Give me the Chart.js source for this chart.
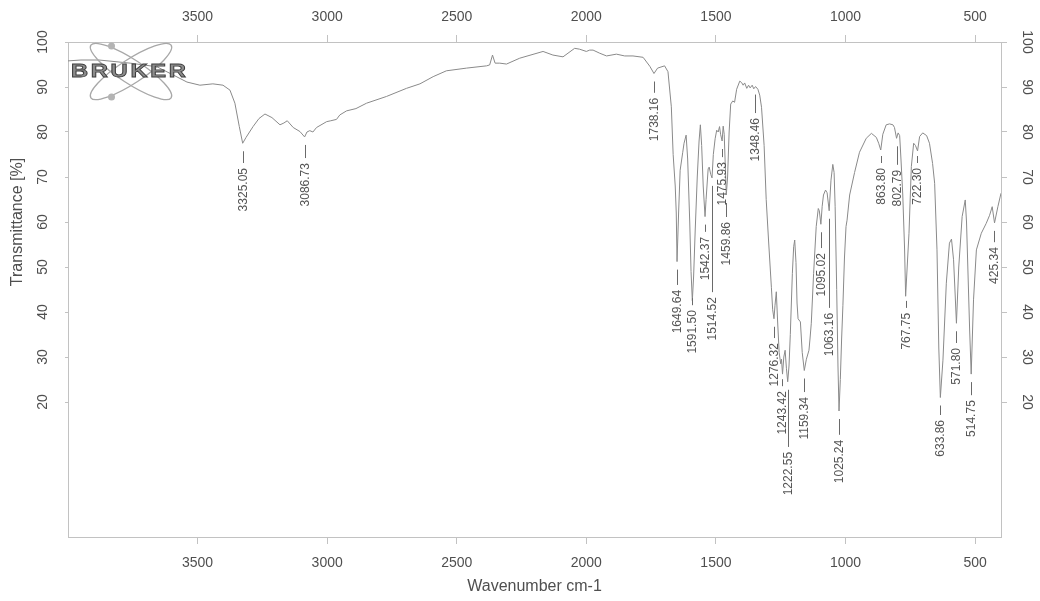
<!DOCTYPE html>
<html>
<head>
<meta charset="utf-8">
<script src="https://cdn.jsdelivr.net/npm/chart.js@4.4.1/dist/chart.umd.min.js"></script>
<style>
  html, body { margin: 0; padding: 0; background: #fff; }
  #wrap { width: 1040px; height: 601px; position: relative; }
</style>
</head>
<body>
<div id="wrap"><canvas id="irChart"></canvas></div>
<script>
// spectrum (wavenumber cm-1 -> transmittance %)
const wavenumber = [
  4000, 3950, 3880, 3760, 3657, 3595, 3541, 3491, 3441, 3402, 3375, 3356, 3339, 3326, 3313,
  3286, 3263, 3240, 3213, 3182, 3167, 3154, 3131, 3105, 3087, 3078, 3067, 3055, 3041, 3002,
  2986, 2964, 2951, 2925, 2889, 2848, 2771, 2694, 2642, 2591, 2540, 2462, 2385, 2373, 2362,
  2352, 2334, 2308, 2257, 2167, 2129, 2090, 2045, 2026, 2000, 1987, 1974, 1948, 1922, 1884,
  1852, 1820, 1781, 1755, 1739, 1725, 1698, 1685, 1672, 1665, 1657, 1653, 1650, 1644, 1638,
  1628, 1623, 1615, 1609, 1601, 1596, 1591, 1586, 1580, 1572, 1565, 1560, 1555, 1549, 1542,
  1538, 1530, 1526, 1520, 1515, 1510, 1503, 1497, 1491, 1486, 1482, 1476, 1472, 1468, 1460,
  1455, 1449, 1443, 1435, 1428, 1420, 1408, 1401, 1395, 1389, 1381, 1374, 1368, 1360, 1354,
  1347, 1338, 1331, 1324, 1314, 1306, 1297, 1286, 1281, 1276, 1272, 1267, 1262, 1256, 1250,
  1247, 1243, 1238, 1233, 1228, 1223, 1218, 1213, 1205, 1200, 1196, 1191, 1187, 1183, 1174,
  1167, 1159, 1151, 1141, 1137, 1132, 1123, 1113, 1105, 1101, 1095, 1090, 1085, 1077, 1071,
  1063, 1056, 1049, 1044, 1040, 1034, 1029, 1025, 1020, 1015, 1010, 1004, 998, 994, 984,
  965, 946, 920, 900, 881, 872, 864, 856, 843, 830, 817, 811, 803, 797, 791,
  786, 779, 772, 768, 762, 755, 746, 737, 730, 722, 714, 702, 687, 676, 664,
  656, 647, 640, 634, 624, 611, 599, 591, 583, 577, 572, 563, 550, 538, 533,
  528, 521, 515, 506, 495, 476, 457, 444, 434, 425, 412, 400
];
const transmittance = [
  95.8, 96.0, 96.0, 95.3, 94.5, 92.7, 91.1, 90.4, 90.7, 90.4, 89.3, 86.4, 81.2, 77.5, 78.8,
  81.2, 83.0, 84.0, 83.2, 81.6, 82.0, 82.5, 81.0, 80.1, 78.9, 80.0, 80.3, 80.0, 81.0, 82.3,
  82.5, 82.8, 83.8, 84.7, 85.2, 86.4, 87.9, 89.7, 90.7, 92.3, 93.6, 94.2, 94.7, 94.9, 97.1,
  95.3, 95.3, 95.1, 96.4, 97.9, 97.1, 96.7, 98.6, 98.4, 97.9, 98.2, 98.2, 97.5, 96.9, 97.3,
  96.9, 96.9, 96.6, 94.6, 93.0, 94.2, 94.7, 93.4, 85.6, 75.0, 68.0, 62.0, 51.2, 62.0, 71.5,
  75.5, 77.5, 79.3, 74.0, 60.0, 49.0, 42.5, 48.0, 58.0, 70.0, 78.0, 81.6, 77.0, 68.0, 61.2,
  65.0, 71.8, 72.2, 70.6, 69.8, 75.0, 78.5, 80.4, 80.0, 81.2, 79.5, 78.0, 81.3, 79.5, 66.0,
  70.0, 80.0, 86.2, 86.9, 86.6, 89.5, 91.3, 91.0, 90.4, 90.9, 89.7, 90.4, 89.8, 90.4, 89.6,
  90.1, 89.5, 88.2, 85.5, 77.0, 65.0, 56.0, 45.5, 40.5, 38.5, 41.5, 44.5, 38.0, 31.0, 28.5,
  29.5, 26.2, 30.0, 31.5, 27.5, 24.5, 28.0, 35.0, 48.6, 54.5, 56.0, 51.0, 42.0, 38.5, 37.8,
  31.0, 27.0, 29.5, 31.5, 34.0, 37.5, 48.6, 59.0, 63.0, 62.5, 59.5, 63.5, 66.0, 67.1, 66.5,
  62.5, 69.3, 72.8, 71.0, 63.5, 45.0, 28.0, 18.0, 25.0, 34.0, 41.5, 52.0, 59.0, 60.4, 66.0,
  71.0, 75.5, 78.6, 79.7, 78.8, 77.5, 76.0, 79.5, 81.6, 81.8, 81.6, 81.0, 78.6, 79.8, 79.2,
  74.0, 66.0, 54.0, 43.5, 50.0, 57.5, 72.3, 77.5, 77.0, 75.8, 79.0, 79.8, 79.2, 77.5, 73.0,
  68.6, 53.8, 32.0, 21.0, 29.3, 46.4, 55.3, 56.2, 51.6, 44.0, 37.5, 50.0, 61.2, 64.9, 60.0,
  50.0, 36.0, 26.2, 42.7, 53.8, 57.5, 59.7, 61.5, 63.4, 59.8, 63.4, 66.4
];

// picked peaks and where their labels start (transmittance units)
const peakLabels = [
  '3325.05', '3086.73', '1738.16', '1649.64', '1591.50', '1542.37', '1514.52', '1475.93',
  '1459.86', '1348.46', '1276.32', '1243.42', '1222.55', '1159.34', '1095.02', '1063.16',
  '1025.24', '863.80', '802.79', '767.75', '722.30', '633.86', '571.80', '514.75', '425.34'
];
const peakLabelTop = [
  72.0, 73.1, 87.6, 44.9, 40.4, 56.7, 43.3, 73.3,
  60.0, 83.1, 33.1, 22.4, 8.9, 21.1, 53.1, 39.8,
  11.6, 72.0, 71.6, 39.8, 72.0, 16.0, 32.0, 20.4, 54.4
];

const xTickValues = [3500, 3000, 2500, 2000, 1500, 1000, 500];
const yTickValues = [20, 30, 40, 50, 60, 70, 80, 90, 100];

const FONT = '"Liberation Sans", Arial, sans-serif';
const textColor = '#4f4f4f';
const frameColor = '#c2c2c2';

Chart.defaults.font.family = FONT;

const points = wavenumber.map((w, i) => ({ x: w, y: transmittance[i] }));

function peakValue(wn) {
  let best = Infinity;
  wavenumber.forEach((w, i) => {
    if (Math.abs(w - wn) <= 5 && transmittance[i] < best) best = transmittance[i];
  });
  return best;
}

const decorPlugin = {
  id: 'decor',
  afterDraw(chart) {
    const { ctx, chartArea } = chart;
    const x = chart.scales.x;
    const yL = chart.scales.y;

    ctx.save();

    // y tick labels, rotated like the printout
    ctx.fillStyle = textColor;
    ctx.font = '14px ' + FONT;
    ctx.textAlign = 'center';
    ctx.textBaseline = 'middle';
    yL.ticks.forEach(t => {
      const py = yL.getPixelForValue(t.value);
      ctx.save();
      ctx.translate(chartArea.left - 25, py);
      ctx.rotate(-Math.PI / 2);
      ctx.fillText(String(t.value), 0, 0);
      ctx.restore();
      ctx.save();
      ctx.translate(chartArea.right + 26, py);
      ctx.rotate(Math.PI / 2);
      ctx.fillText(String(t.value), 0, 0);
      ctx.restore();
    });

    // y title centred on the labelled range
    const midY = (yL.getPixelForValue(20) + yL.getPixelForValue(100)) / 2;
    ctx.font = '16px ' + FONT;
    ctx.save();
    ctx.translate(18, midY);
    ctx.rotate(-Math.PI / 2);
    ctx.fillText('Transmittance [%]', 0, 0);
    ctx.restore();

    // peak labels
    ctx.font = '12px ' + FONT;
    ctx.fillStyle = '#555';
    ctx.strokeStyle = '#6a6a6a';
    ctx.lineWidth = 1;
    peakLabels.forEach((lbl, i) => {
      const wn = parseFloat(lbl);
      const px = Math.round(x.getPixelForValue(wn)) + 0.5;
      const py = yL.getPixelForValue(peakValue(wn));
      const top = yL.getPixelForValue(peakLabelTop[i]);
      const d0 = Math.min(py + 8, top - 12);
      ctx.beginPath();
      ctx.moveTo(px, d0);
      ctx.lineTo(px, top - 5);
      ctx.stroke();
      ctx.save();
      ctx.translate(px, top);
      ctx.rotate(-Math.PI / 2);
      ctx.textAlign = 'right';
      ctx.textBaseline = 'middle';
      ctx.fillText(lbl, 0, 0);
      ctx.restore();
    });

    // Bruker logo in the corner
    ctx.strokeStyle = '#a8a8a8';
    ctx.lineWidth = 1.3;
    [0.58, -0.58].forEach(rot => {
      ctx.beginPath();
      ctx.ellipse(131, 71.5, 48, 12, rot, 0, Math.PI * 2);
      ctx.stroke();
    });
    ctx.fillStyle = '#b4b4b4';
    [[111.5, 46], [111.5, 97]].forEach(([cx, cy]) => {
      ctx.beginPath();
      ctx.arc(cx, cy, 3.5, 0, Math.PI * 2);
      ctx.fill();
    });
    ctx.save();
    ctx.translate(71, 72);
    ctx.scale(1.32, 1);
    ctx.font = 'bold 18px ' + FONT;
    ctx.textAlign = 'left';
    ctx.textBaseline = 'middle';
    ctx.letterSpacing = '2px';
    ctx.fillStyle = '#8c8c8c';
    ctx.strokeStyle = '#3c3c3c';
    ctx.lineWidth = 0.8;
    ctx.fillText('BRUKER', 0, 0);
    ctx.strokeText('BRUKER', 0, 0);
    ctx.restore();

    ctx.restore();
  }
};

const xAxisBase = {
  type: 'linear',
  min: 400,
  max: 4000,
  reverse: true,
  afterBuildTicks: s => { s.ticks = xTickValues.map(v => ({ value: v })); },
  grid: { drawOnChartArea: false, drawTicks: true, tickLength: 7, color: frameColor },
  border: { display: true, color: frameColor, width: 1 },
};

const yAxisBase = {
  type: 'linear',
  min: -10,
  max: 100,
  afterBuildTicks: s => { s.ticks = yTickValues.map(v => ({ value: v })); },
  ticks: { display: false },
  border: { display: true, color: frameColor, width: 1 },
};

const plainTick = v => String(v);

new Chart(document.getElementById('irChart'), {
  type: 'line',
  data: {
    datasets: [{
      data: points,
      borderColor: '#8a8a8a',
      borderWidth: 1,
      pointRadius: 0,
      tension: 0,
      fill: false
    }]
  },
  options: {
    responsive: true,
    maintainAspectRatio: false,
    animation: false,
    layout: { padding: 0 },
    plugins: { legend: { display: false }, tooltip: { enabled: false } },
    scales: {
      x: {
        ...xAxisBase,
        position: 'bottom',
        ticks: { font: { size: 14 }, color: textColor, padding: 11, maxRotation: 0, callback: plainTick },
        title: { display: true, text: 'Wavenumber cm-1', color: textColor, font: { size: 16 }, padding: { top: 0, bottom: 5 } },
        afterFit: s => { s.height = 64; }
      },
      xTop: {
        ...xAxisBase,
        position: 'top',
        ticks: { font: { size: 14 }, color: textColor, padding: 9, maxRotation: 0, callback: plainTick },
        afterFit: s => { s.height = 42; }
      },
      y: {
        ...yAxisBase,
        position: 'left',
        grid: { drawOnChartArea: false, drawTicks: true, tickLength: 3, color: frameColor },
        afterFit: s => { s.width = 68; }
      },
      yRight: {
        ...yAxisBase,
        position: 'right',
        grid: { drawOnChartArea: false, drawTicks: true, tickLength: 6, color: frameColor },
        afterFit: s => { s.width = 39; }
      }
    }
  },
  plugins: [decorPlugin]
});
</script>
</body>
</html>
